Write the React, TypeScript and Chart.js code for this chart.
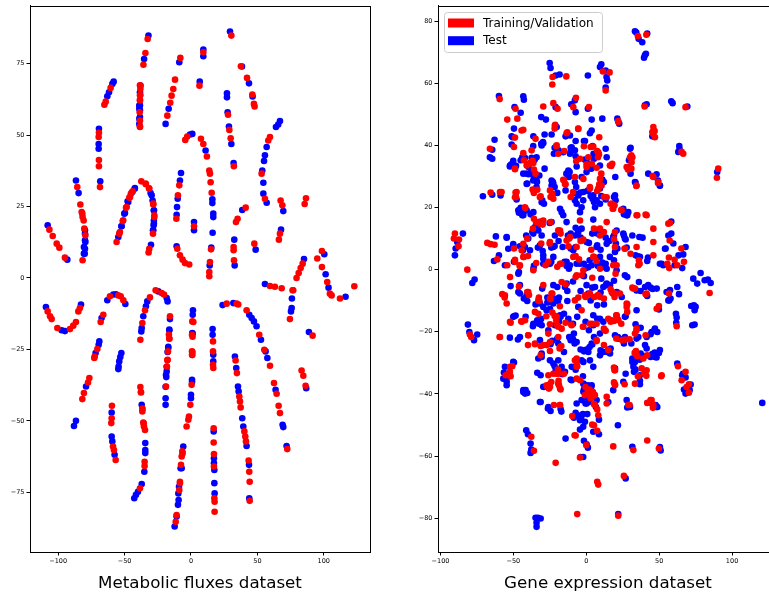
import React, { useEffect, useRef } from 'react';
import { Chart, registerables } from 'chart.js';
Chart.register(...registerables);

type P = [number, number];

// ---- Metabolic fluxes dataset (left) ----
const fluxTrain: P[] = [
  [-32.6,83.6],[-34.3,78.7],[-35.8,74.6],
  [-38.1,66.1],[-38.1,64.0],[-38.4,62.3],[-38.6,58.0],[-38.4,53.0],
  [-38.4,67.4],[-38.4,63.9],[-38.4,62.1],[-38.4,55.1],[-38.4,52.8],
  [-60.5,66.5],[-64.2,61.7],[-65.2,60.6],
  [-69.3,50.8],[-69.5,49.3],[-69.3,41.3],[-69.3,39.1],[-68.5,31.8],
  [-8.0,77.0],[-12.0,69.4],[-13.3,66.1],[-14.6,63.8],[-15.6,61.3],[-17.8,56.8],
  [9.3,79.0],[6.4,67.3],[30.4,84.8],
  [37.6,74.1],[42.2,70.0],[46.2,64.2],[47.4,60.9],[47.9,60.0],
  [27.9,57.1],[28.9,51.8],[29.9,48.9],[32.3,39.1],
  [-4.3,48.3],[-2.8,49.5],
  [7.5,48.7],[9.3,46.9],[12.0,42.5],[13.8,37.6],[14.3,36.5],[14.8,33.5],[15.6,29.8],
  [15.1,10.0],[14.3,5.6],[13.8,2.1],[13.8,0.6],
  [59.5,49.3],[58.2,48.1],[53.2,36.5],[55.7,27.7],
  [67.5,27.1],[68.8,25.4],[86.6,27.9],[85.6,25.9],[67.0,15.5],[66.2,13.4],[47.7,12.0],
  [41.2,24.6],[35.1,20.7],[33.9,19.6],[32.1,10.8],[32.1,9.7],[32.4,6.2],
  [-8.8,32.4],[-9.8,28.9],[-11.0,20.7],[-10.3,10.2],[-8.3,7.9],[-6.3,6.4],[-4.5,5.2],[-1.3,4.7],
  [2.3,18.1],
  [-56.0,12.6],[-53.5,16.1],[-51.4,19.9],[-48.9,24.6],[-46.4,28.1],[-45.2,29.5],[-43.9,30.3],[-37.4,33.8],[-34.1,33.0],[-31.6,31.4],[-28.4,25.7],[-27.6,21.9],[-28.6,15.5],
  [-54.0,15.5],[-51.0,20.2],[-48.4,24.8],[-45.9,28.3],[-33.9,32.8],[-31.4,31.3],[-28.4,26.0],[-27.6,21.3],
  [-31.4,10.2],[-31.9,8.9],
  [-85.6,31.8],[-83.3,25.7],[-81.8,22.5],[-80.8,20.1],[-79.5,14.9],[-81.6,6.2],
  [-82.3,23.1],[-81.6,21.3],[-80.3,17.3],
  [-106.6,16.9],[-104.1,14.7],[-101.1,12.0],[-99.1,10.6],[-94.9,7.1],
  [59.5,-2.8],[63.2,-3.1],[68.3,-3.6],
  [84.1,5.0],[82.6,3.5],[81.1,1.7],[79.5,0],[77.0,-4.3],
  [95.1,6.8],[98.6,9.4],[98.6,3.8],[102.6,-1.4],[104.6,-5.5],[105.9,-6.1],
  [112.2,-7.2],[123.0,-2.9],
  [-107.9,-11.7],[-106.1,-13.4],[-104.9,-14.4],[-100.6,-17.5],[-91.1,-17.9],[-88.6,-16.7],[-86.6,-15.4],[-84.8,-11.7],[-83.6,-10.5],
  [-66.0,-12.9],[-68.0,-15.4],
  [-61.0,-6.4],[-54.7,-6.1],[-52.9,-6.4],[-50.9,-7.8],
  [-30.9,-6.8],[-34.6,-11.3],[-36.6,-15.8],[-38.1,-21.6],
  [-26.6,-4.3],[-22.1,-5.3],[-20.3,-5.8],
  [-15.8,-13.4],[-16.6,-19.9],[-16.3,-21.3],[-17.3,-25.7],[-17.6,-28.6],[-18.1,-31.0],[-18.8,-38.0],
  [-16.3,-21.2],[-17.8,-28.8],
  [1.0,-15.2],[0.8,-19.9],[0.8,-25.7],[0.8,-26.9],[0.5,-37.4],[-0.5,-44.4],[-1.5,-48.5],[-2.0,-49.6],[-3.3,-52.0],[-6.5,-60.7],[-7.0,-62.5],[-7.5,-65.4],[-8.3,-71.8],[-8.8,-74.2],[-11.5,-85.3],
  [1.8,-15.4],[1.2,-20.6],[1.0,-27.0],[-6.3,-61.4],[-8.3,-71.3],[-10.8,-83.0],
  [16.6,-22.2],[16.6,-25.7],[16.6,-30.4],[16.8,-31.5],[17.1,-52.6],[17.1,-57.6],[17.3,-61.6],[17.3,-66.0],[17.6,-77.1],[17.8,-78.3],[17.8,-81.8],
  [26.9,-9.0],[34.4,-9.0],[35.6,-9.3],[41.9,-11.3],[51.4,-19.9],[55.2,-25.1],[59.5,-30.7],
  [33.6,-28.9],[34.6,-33.3],[36.4,-41.5],[36.9,-43.2],[37.4,-45.3],[40.2,-53.7],[40.9,-55.5],[41.4,-57.2],
  [43.4,-63.9],[43.9,-67.8],[44.2,-71.3],[44.2,-78.0],
  [62.5,-36.8],[64.5,-40.5],[66.0,-44.7],[67.0,-47.3],
  [72.5,-59.9],[83.3,-32.4],[84.6,-34.2],[86.3,-37.7],[91.6,-20.2],
  [76.5,-4.3],[74.5,-14.4],
  [-70.5,-24.9],[-72.5,-27.5],[-72.8,-28.0],
  [-76.5,-35.0],[-77.5,-36.6],[-80.6,-40.3],[-81.8,-42.4],
  [-59.5,-44.7],[-59.7,-49.1],[-60.0,-50.8],[-58.7,-59.0],[-58.0,-60.2],[-56.7,-63.7],
  [-38.1,-38.2],[-37.6,-40.1],[-36.6,-45.9],[-36.6,-46.7],[-35.9,-50.6],[-35.4,-52.0],[-34.6,-53.2],[-34.9,-64.3],[-34.9,-65.8],
  [-37.7,-39.9],[-36.6,-45.7],[-35.6,-50.9],
  [-38.4,-73.6],
];

const fluxTest: P[] = [
  [-32.0,84.8],[-35.3,76.6],
  [-38.0,67.3],[-38.9,60.3],[-38.9,59.2],[-38.9,55.7],[-38.9,53.9],
  [-38.4,65.0],[-38.4,60.4],[-38.4,58.7],[-38.4,56.3],
  [-58.2,68.7],[-59.2,67.9],[-61.7,65.0],[-63.0,63.6],
  [-69.3,52.2],[-69.5,46.9],[-69.5,45.2],[-68.3,33.8],
  [-8.8,75.5],[-16.8,59.2],[-19.1,53.9],
  [9.3,79.9],[9.3,77.6],[6.6,68.7],[29.4,86.2],
  [38.4,74.0],[43.7,68.1],[46.4,63.5],
  [27.1,64.6],[27.1,63.2],[27.6,58.0],[28.6,53.0],[30.4,46.9],[32.1,40.2],
  [-0.75,50.2],[1.0,50.4],
  [11.0,44.6],[16.1,27.5],[16.1,26.2],[16.8,22.5],[16.8,21.3],[16.3,15.8],
  [15.3,10.6],[14.1,4.4],
  [67.0,54.9],[65.7,53.7],[64.0,52.8],[57.0,45.8],[55.7,42.9],[55.0,40.9],[53.7,37.6],[54.5,33.3],[54.5,29.5],[57.0,26.3],
  [69.5,23.4],[67.8,16.9],[48.7,9.9],
  [38.6,23.8],[32.6,13.4],[32.9,4.4],
  [-7.5,36.7],[-8.3,34.1],[-10.0,27.7],[-10.5,24.8],[-10.8,22.1],[-10.8,11.1],
  [2.3,19.6],[2.3,16.7],
  [-54.7,14.3],[-52.4,18.1],[-50.2,22.5],[-47.7,26.8],[-42.4,31.2],[-30.4,29.7],[-28.9,27.1],[-27.9,23.6],[-27.9,20.1],[-28.1,18.4],[-28.6,16.7],
  [-52.2,18.1],[-49.7,22.7],[-47.2,26.6],[-44.2,30.1],[-42.2,31.5],[-29.6,28.9],[-27.9,23.7],[-27.9,19.0],[-28.4,16.7],
  [-30.1,11.6],
  [-86.6,34.1],[-84.6,29.7],[-79.8,16.7],[-79.5,12.6],[-79.8,10.2],[-80.0,8.5],
  [-79.8,15.5],[-79.8,13.2],[-80.6,10.8],[-80.6,8.5],
  [-107.9,18.4],[-93.1,6.4],
  [55.7,-2.1],[85.1,6.6],[76.0,-7.2],
  [100.4,8.3],[101.4,1.3],[103.6,-3.4],[116.4,-6.6],
  [-109.2,-10.2],[-97.4,-18.3],[-94.9,-18.6],[-82.8,-9.3],
  [-67.3,-14.0],
  [-63.0,-7.8],[-58.5,-5.8],[-56.5,-5.7],[-49.4,-9.1],
  [-32.9,-8.2],[-33.9,-9.9],[-35.9,-13.4],[-37.1,-17.5],[-37.4,-18.7],
  [-24.6,-4.7],[-18.3,-7.0],[-17.6,-8.2],
  [-15.8,-14.4],[-16.3,-18.1],[-17.1,-24.5],[-18.3,-32.7],[-18.6,-34.7],[-19.1,-42.1],[-19.1,-44.4],
  [-16.3,-18.3],[-17.1,-24.1],[-17.6,-25.9],[-18.3,-31.1],[-18.8,-34.0],[-19.1,-38.1],
  [1.5,-11.3],[1.3,-12.9],[1.0,-19.3],[0.8,-35.6],[0,-40.9],[0,-42.1],[-5.8,-59.0],[-7.8,-66.6],[-9.3,-77.7],[-9.8,-79.4],[-10.8,-83.5],[-12.3,-87.0],
  [1.2,-19.5],[1.0,-25.9],[0.8,-36.4],[-7.0,-66.6],[-9.0,-73.1],[-9.5,-75.4],
  [16.3,-17.9],[16.3,-19.9],[16.8,-26.9],[16.8,-29.2],[17.1,-53.7],[17.3,-63.1],[17.3,-64.8],[17.6,-67.2],[17.6,-71.8],[17.8,-75.4],
  [23.8,-9.5],[31.9,-8.8],[43.9,-12.9],[45.7,-14.0],[47.4,-15.2],[49.4,-16.9],[52.7,-21.6],[56.2,-25.7],[57.5,-28.0],
  [33.1,-27.5],[34.1,-31.5],[35.4,-38.0],[35.9,-39.7],[38.6,-49.1],[39.4,-52.0],[41.9,-58.8],
  [43.7,-65.4],[43.9,-77.1],
  [63.7,-39.1],[69.0,-51.4],[69.5,-52.2],
  [72.0,-58.8],[86.8,-38.6],[88.8,-18.9],
  [75.8,-10.5],[75.3,-11.7],
  [-69.0,-22.2],[-69.5,-23.4],[-71.8,-26.3],
  [-79.0,-38.0],[-86.6,-50.0],[-88.1,-51.8],
  [-52.4,-26.3],[-53.2,-27.7],[-54.0,-29.2],[-54.5,-31.0],[-54.7,-31.9],
  [-59.7,-47.1],[-59.7,-55.5],[-59.2,-57.2],[-57.5,-61.9],
  [-37.1,-44.4],[-34.4,-57.8],[-34.4,-60.2],[-34.4,-61.3],[-35.1,-67.8],
  [-37.1,-72.1],[-39.9,-74.8],[-41.4,-75.9],[-42.7,-77.1],
];

// ---- Gene expression dataset (right) ----
const geneTrain: P[] = [
  [35.4,75.2],[41.2,75.6],
  [11.4,63.8],[16.0,63.5],[13.3,57.7],
  [-23.1,62.0],[-23.3,59.6],[-13.7,62.2],
  [-59.4,54.9],[-48.5,51.8],[-29.5,52.5],[-22.6,53.6],[-19.7,51.8],[-8.9,52.3],[-7.1,55.3],[1.8,52.3],[40.0,52.5],[68.1,52.3],
  [-54.2,48.3],[-47.3,48.6],[-48.9,42.5],[-44.4,44.8],[-21.3,46.6],[-21.7,45.4],[-13.0,44.2],[-5.5,45.4],[21.9,47.8],[45.3,44.3],[46.9,44.6],[-34.8,42.1],
  [-66.1,38.9],[-49.6,39.5],[-20.6,39.8],[-15.1,38.2],[-1.6,39.7],[3.0,39.5],[7.5,38.2],[8.7,37.1],[30.9,36.8],[31.6,36.2],[65.4,37.9],[66.5,37.3],
  [-42.8,35.2],[-40.5,34.1],[-38.2,34.5],[-36.8,35.0],[-34.8,30.9],[-35.9,32.2],[-15.3,28.7],[-14.2,27.5],[-6.9,34.9],[0.2,33.9],[8.0,36.2],[7.1,32.8],[10.3,30.9],[8.9,27.5],[17.1,33.4],[17.8,34.1],[27.7,33.0],[28.6,32.2],[30.9,32.5],[34.3,26.9],[45.5,30.1],[49.2,27.9],[90.5,32.5],[89.6,29.6],[-48.9,32.3],
  [-59.2,25.0],[-48.5,24.8],[-48.2,23.4],[-36.8,25.8],[-35.9,24.7],[-33.6,25.7],[-31.3,23.6],[-24.5,23.4],[-23.3,24.5],[-10.7,23.4],[-9.1,25.0],[2.5,26.1],[7.5,25.3],[8.7,26.6],[12.1,23.4],[16.7,21.2],[18.1,19.6],[19.4,20.7],[24.0,19.3],[35.0,17.5],[40.7,17.7],[57.4,15.0],[-41.8,19.8],[-35.9,16.4],[-34.5,15.3],[-65.6,24.8],
  [-90.8,10.0],[-90.1,11.6],[-87.3,9.7],[-87.6,7.5],[-67.9,8.6],[-65.6,8.2],[-62.9,8.0],[-49.6,6.8],[-40.5,10.0],[-36.6,13.2],[-31.3,15.5],[-29.9,14.5],[-24.5,15.3],[-19.2,12.7],[-17.6,11.6],[-11.7,10.0],[-3.9,9.2],[-2.1,9.7],[5.3,13.2],[12.1,12.1],[19.0,9.8],[46.0,8.9],[57.2,9.4],[65.2,6.8],[-30.9,8.4],[-25.1,8.4],[-13.5,9.4],[3.4,6.4],[30.4,5.1],
  [-81.6,0],[-61.0,3.3],[-54.2,1.4],[-48.9,3.2],[-45.7,1.2],[-42.8,4.1],[-40.0,4.4],[-34.3,2.1],[-27.9,1.4],[-19.9,0.9],[-17.1,1.9],[-7.3,4.4],[-5.0,3.3],[5.3,4.1],[6.9,2.8],[18.5,1.4],[26.3,6.8],[36.1,3.0],[36.6,1.9],[55.6,1.9],[56.7,3.9],[56.9,0.5],[60.6,3.2],[62.4,1.4],[67.0,2.5],
  [84.6,-7.5],[56.7,-7.7],[-57.6,-7.9],[-56.0,-9.0],[-46.2,-5.4],[-40.5,-7.2],[-39.3,-8.2],[-32.5,-9.0],[-23.3,-7.7],[-14.2,-4.7],[-7.3,-2.4],[-5.5,-9.0],[-0.5,-8.8],[2.3,-7.9],[5.7,-8.8],[7.8,-8.3],[12.1,-9.3],[16.7,-6.3],[18.1,-7.7],[19.4,-8.8],[31.6,-5.8],[33.4,-6.1],[40.7,-7.9],[4.1,-2.6],[20.1,-1.3],
  [-32.2,-10.1],[-24.5,-9.5],[-18.1,-11.8],[-7.8,-9.9],[28.1,-11.2],[49.8,-11.7],
  [-79.8,-20.9],[-78.9,-21.7],[-51.9,-17.1],[-44.6,-16.6],[-39.8,-21.1],[-27.4,-15.0],[-24.9,-17.6],[-23.3,-13.8],[-21.7,-14.9],[-20.6,-16.3],[-19.9,-17.9],[-14.2,-17.1],[-10.3,-17.7],[-2.3,-18.4],[4.1,-17.4],[12.1,-19.0],[13.3,-19.7],[16.7,-16.8],[19.0,-16.5],[20.6,-14.7],[24.0,-17.4],[28.1,-13.6],[34.5,-19.0],[40.7,-21.1],[62.0,-18.2],
  [-59.4,-21.7],[-40.0,-24.3],[-35.2,-24.0],[-31.3,-24.6],[-31.3,-27.6],[-27.2,-24.3],[-24.9,-26.2],[-18.3,-25.4],[-17.1,-24.6],[7.1,-23.0],[12.1,-24.3],[20.6,-22.2],[24.7,-22.7],[27.0,-22.5],[29.7,-22.4],[33.2,-26.8],[34.1,-26.2],[35.0,-27.9],[41.8,-27.6],[62.9,-31.1],[68.1,-32.9],
  [-55.3,-34.0],[-52.4,-32.9],[-51.9,-34.3],[-50.8,-31.1],[-26.7,-37.8],[-25.6,-38.3],[-25.1,-36.9],[-24.0,-36.2],[-20.3,-33.5],[-19.4,-32.2],[-19.0,-35.8],[-18.7,-37.2],[-17.6,-38.6],[-15.3,-33.5],[-6.6,-28.6],[-6.6,-30.0],[-6.2,-31.1],[-0.5,-37.8],[2.3,-38.6],[4.6,-39.4],[1.1,-38.8],[2.5,-39.9],[19.0,-31.5],[19.4,-32.4],[19.0,-36.3],[19.7,-36.9],[26.3,-36.9],[35.4,-34.3],[39.6,-33.5],[41.2,-34.2],[51.4,-34.3],[65.4,-35.6],[68.8,-37.8],[70.4,-36.9],[70.4,-39.6],
  [-22.2,-43.6],[-18.1,-43.6],[-9.6,-47.1],[3.0,-41.5],[5.3,-43.3],[5.9,-40.4],[7.5,-45.0],[8.2,-46.9],[4.1,-49.9],[7.5,-51.9],[0.0,-56.5],[-8.0,-53.3],[-4.3,-60.5],[29.7,-43.6],[44.1,-42.0],[44.8,-43.1],[45.7,-44.5],[41.8,-42.9],[-37.7,-53.8],[-35.9,-58.3],[-7.3,-53.4],[5.3,-50.1],[18.5,-56.9],[32.3,-58.1],[41.8,-55.0],[49.8,-57.6],[-21.0,-62.2],
  [7.5,-68.3],[8.2,-69.2],[25.8,-66.4],[-6.2,-78.7],[21.9,-79.2],
  // denser centre, upper part
  [-43.2,45.0],[-13.5,43.9],[-5.5,45.3],[8.9,42.6],[4.8,39.6],[8.2,37.8],[1.4,36.2],[-4.3,35.7],[-20.3,40.0],[-19.2,37.3],[-37.5,38.4],[-43.2,37.5],
  [-36.3,34.3],[-38.6,34.1],[-40.9,33.5],[-48.9,32.5],[-36.3,25.5],[-15.8,28.9],[-14.6,27.6],[-7.8,29.8],[-2.0,29.2],[0.2,33.0],[3.7,34.1],[16.2,33.5],
  [30.0,36.2],[31.1,34.6],[34.5,27.1],[46.0,29.8],[49.4,28.2],[47.1,42.6],[46.0,43.7],[9.4,29.2],[10.5,27.1],[8.2,26.0],[2.5,26.6],
  [14.0,23.3],[17.4,21.2],[18.5,19.6],[24.2,19.1],[34.5,17.5],[41.4,17.5],[-24.9,25.5],[-22.6,22.8],[-31.8,23.3],[-42.1,20.1],[-48.9,23.3],[-47.8,25.0],[-58.1,25.0],
  [-4.3,15.8],[9.4,13.2],[14.0,15.3],[19.7,12.1],[9.4,11.0],[-11.2,10.5],[-18.0,12.6],[-29.5,15.8],[-31.8,14.8],[-43.2,8.3],[-44.3,6.2],[-24.9,8.9],[-12.3,7.5],
  [-3.2,9.4],[-6.6,7.3],[19.7,7.3],[26.5,6.7],[34.5,7.3],[46.0,4.6],[46.0,13.2],[56.3,14.8],[46.0,45.9],[22.0,47.5],[-43.2,4.1],[-8.9,4.1],[4.8,4.1],
  // denser centre, lower part
  [-48.9,2.5],[-45.5,1.4],[-36.3,-0.2],[-26.0,2.5],[-18.0,1.9],[-2.0,-0.2],[9.4,0.3],[20.8,1.4],[35.7,1.4],[-52.3,-2.4],[-39.8,-7.2],[-55.8,-8.3],[-54.6,-10.9],
  [-29.5,-5.0],[-23.8,-7.7],[-16.9,-4.0],[-6.6,-1.8],[-3.2,-1.8],[-0.9,-8.3],[2.5,-7.7],[8.2,-8.3],[9.4,-8.8],[17.4,-7.2],[19.7,-7.7],[23.1,-7.7],
  [32.3,-6.1],[41.4,-7.7],[48.3,-12.6],[-32.9,-9.9],[-24.9,-9.3],[-35.2,-13.6],[-32.9,-14.2],[-20.3,-15.2],[-42.0,-16.3],[-44.3,-16.8],[-52.3,-16.8],
  [-39.8,-21.1],[-29.5,-24.3],[-35.2,-23.8],[-26.0,-20.6],[-24.9,-23.3],[-19.2,-18.4],[-16.9,-19.0],[-19.2,-21.7],[-18.0,-24.9],[-10.0,-17.9],
  [-3.2,-13.1],[-2.0,-18.4],[2.5,-17.4],[7.1,-17.4],[15.1,-15.8],[17.4,-16.3],[20.8,-14.7],[22.0,-16.3],[27.7,-12.0],[27.7,-10.9],[12.8,-19.5],
  [7.1,-22.7],[15.1,-25.9],[25.4,-22.7],[33.4,-20.6],[34.5,-19.5],[34.5,-27.6],[39.1,-28.6],[38.0,-31.8],[41.4,-32.4],[33.4,-36.7],[51.7,-34.0],
  [-7.8,-29.2],[-6.6,-31.3],[-6.6,-35.1],[-4.3,-35.6],[-19.2,-33.5],[-22.6,-33.5],[-26.0,-34.0],[-27.2,-37.2],[-24.9,-37.7],[-18.0,-38.3],[-19.2,-36.7],
  [1.4,-39.9],[3.7,-40.9],[-0.9,-40.4],[6.0,-43.6],[14.0,-40.9],[14.0,-43.1],[19.7,-37.2],[19.7,-32.4],[28.8,-43.6],[44.8,-42.0],[46.0,-43.6],
  [-53.5,-33.5],[-52.3,-31.3],[-18.0,-43.6],[-59.2,-21.7],
];

const geneTest: P[] = [
  [33.4,76.7],[34.3,76.3],[35.9,74.3],[38.4,73.2],[41.8,76.0],[40.2,69.0],[40.9,69.5],[39.6,68.2],
  [10.3,66.1],[9.4,65.2],[13.3,64.1],[13.9,62.0],[14.4,60.9],[13.3,58.6],[1.1,62.5],
  [-25.1,66.5],[-24.5,64.9],[-21.0,62.5],[-18.3,62.8],
  [-59.9,55.9],[-43.2,55.8],[-42.8,54.7],[-49.2,52.3],[-45.0,50.5],[-21.0,52.3],[-10.3,53.2],[-7.8,54.5],[-7.3,50.7],[1.1,51.8],[40.2,52.9],[41.4,53.2],[58.3,54.2],[59.2,53.6],[69.3,52.5],
  [-49.6,45.4],[-51.2,42.9],[-30.9,49.1],[-27.7,48.3],[-20.3,45.9],[-14.2,42.9],[3.7,48.3],[11.0,48.6],[21.3,48.6],[22.6,47.0],[45.3,42.9],[-28.6,43.5],
  [-64.5,38.6],[-62.9,41.8],[-66.1,36.2],[-64.5,35.7],[-51.2,40.3],[-36.4,39.8],[-30.9,40.5],[-29.7,41.1],[-21.7,39.2],[-19.0,38.4],[-10.7,39.2],[-10.7,37.9],[-7.3,41.4],[-1.6,41.4],[4.3,39.8],[5.0,37.3],[13.3,38.9],[30.4,39.2],[29.3,35.2],[63.8,39.8],[64.0,38.7],[63.1,37.9],
  [-50.1,35.0],[-51.4,33.9],[-48.2,33.4],[-45.0,35.2],[-43.9,36.2],[-35.4,35.4],[-39.6,33.0],[-37.5,32.0],[-43.2,30.9],[-39.6,30.7],[-40.5,27.7],[-36.4,28.7],[-33.8,28.2],[-28.6,32.5],[-22.9,28.2],[-21.7,26.6],[-23.8,27.1],[-13.5,30.9],[-11.4,31.4],[-11.9,29.8],[-7.3,36.5],[-6.6,33.2],[0,35.2],[1.8,33.6],[3.4,34.1],[3.4,32.5],[5.3,35.7],[11.0,29.0],[9.4,26.1],[12.1,28.2],[19.9,29.8],[30.4,30.9],[33.8,28.0],[48.2,30.7],[49.2,28.7],[50.5,27.0],[89.8,31.4],[-52.4,33.2],[-32.2,30.3],
  [-70.9,23.6],[-58.8,23.9],[-47.8,22.6],[-30.2,22.3],[-29.0,21.2],[-19.9,24.7],[-14.2,25.5],[-7.3,24.5],[-6.9,26.6],[-3.9,24.8],[-2.1,22.3],[0.7,25.3],[3.0,23.7],[4.3,22.8],[5.3,21.8],[10.3,23.7],[13.3,22.6],[19.0,23.4],[20.1,22.3],[25.8,17.8],[28.1,17.5],[58.3,15.5],[58.3,11.6],[-45.0,19.9],[-46.2,18.3],[-42.8,18.6],[-43.9,17.5],[-38.2,17.8],[-64.5,24.1],
  [-88.5,8.9],[-89.6,6.8],[-84.6,11.6],[-62.0,10.7],[-54.6,10.3],[-50.1,8.2],[-45.5,7.5],[-41.2,11.0],[-37.0,12.1],[-33.6,13.7],[-32.5,15.3],[-25.1,15.0],[-12.6,11.0],[-10.7,11.6],[-7.3,13.5],[-5.7,12.7],[-3.9,10.3],[1.8,8.6],[4.1,11.6],[7.5,11.6],[8.2,12.7],[13.3,10.3],[15.8,9.2],[19.0,11.0],[20.3,8.4],[25.8,11.0],[27.0,9.7],[31.6,11.0],[36.4,10.5],[38.6,10.3],[54.4,6.8],[59.7,8.4],[63.3,4.6],[66.5,4.9],[68.1,7.3],[-90.1,4.6],[-43.4,6.2],[-33.2,7.1],[-29.9,6.0],[-24.0,7.1],[-21.7,7.6],[-19.0,9.2],[-16.2,7.3],[-10.7,6.8],[-7.3,7.3],[7.5,7.8],[9.8,6.4],[21.3,6.8],[33.8,4.6],
  [-78.2,-4.3],[-76.6,-3.2],[-63.3,2.8],[-59.9,4.6],[-49.6,2.5],[-46.2,-0.8],[-35.9,1.2],[-29.5,3.5],[-25.6,1.9],[-24.0,2.5],[-14.9,2.5],[-13.5,1.2],[-11.9,0.3],[-6.6,1.9],[-1.6,1.9],[-0.2,0.5],[2.3,3.0],[8.0,1.2],[11.0,2.3],[12.1,0.9],[13.3,1.9],[19.0,3.0],[27.7,7.1],[35.4,4.3],[42.3,3.9],[41.8,2.8],[51.7,1.9],[60.6,1.4],[65.8,0.5],
  [73.4,-2.9],[76.1,-4.5],[78.4,-1.1],[81.2,-3.4],[83.4,-3.2],[85.3,-4.3],[57.4,-6.6],[62.4,-5.6],[63.6,-7.9],[57.8,-9.3],
  [-51.9,-5.3],[-45.5,-7.7],[-42.8,-9.3],[-30.2,-6.1],[-26.7,-9.0],[-22.2,-9.3],[-19.9,-5.6],[-18.7,-9.0],[-13.0,-6.9],[-3.9,-6.9],[4.1,-5.8],[9.8,-7.4],[13.5,-5.0],[21.3,-7.4],[37.3,-6.9],[41.8,-8.5],[44.1,-5.8],[45.5,-6.2],[-9.1,-3.8],[-1.6,-2.1],[10.3,-2.9],[19.0,-3.6],[28.1,-2.4],[36.1,-4.0],
  [-40.5,-10.1],[-34.8,-11.2],[-26.7,-10.6],[-19.4,-10.1],[-13.0,-10.1],[3.0,-9.9],[7.5,-11.5],[12.1,-11.2],[49.8,-12.8],[56.9,-9.9],[75.0,-12.0],[73.8,-11.5],[74.3,-13.1],
  [-81.2,-17.7],[-80.2,-20.1],[-74.8,-20.9],[-77.0,-22.7],[-49.6,-15.0],[-48.5,-14.8],[-41.6,-15.2],[-36.6,-18.2],[-33.6,-16.3],[-32.5,-17.4],[-30.9,-15.8],[-18.7,-16.8],[-17.6,-15.2],[-15.3,-14.2],[-12.3,-15.8],[-9.1,-17.4],[-8.5,-20.6],[-6.2,-15.2],[-0.5,-16.8],[1.8,-19.5],[4.8,-14.7],[7.5,-15.8],[21.3,-15.8],[27.0,-15.0],[33.8,-17.6],[37.3,-18.7],[44.1,-20.8],[46.9,-19.3],[48.7,-20.1],[61.5,-14.2],[62.0,-15.4],[61.7,-17.1],[72.0,-11.7],[72.7,-17.9],[74.3,-17.7],
  [-52.4,-21.9],[-46.9,-22.5],[-45.5,-21.7],[-30.6,-27.0],[-24.5,-24.0],[-23.3,-22.9],[-19.9,-22.2],[-19.2,-23.8],[-15.3,-26.5],[-11.7,-21.7],[-10.7,-22.7],[-9.4,-22.2],[-8.0,-23.8],[-6.6,-23.3],[-3.9,-25.7],[-1.6,-26.3],[1.1,-25.6],[2.3,-24.9],[4.1,-24.1],[5.3,-21.7],[9.8,-26.0],[14.4,-26.5],[15.1,-25.7],[16.7,-25.4],[21.7,-21.7],[25.8,-22.2],[25.8,-23.8],[30.9,-23.8],[31.6,-28.6],[36.6,-29.0],[37.3,-27.0],[39.6,-27.8],[44.1,-28.1],[45.3,-27.2],[46.9,-26.7],[48.2,-28.3],[49.8,-26.8],[62.4,-30.2],[66.3,-33.5],[68.1,-34.7],
  [-56.5,-33.1],[-54.6,-36.1],[-49.6,-29.9],[-54.6,-34.8],[-43.2,-39.4],[-41.6,-38.8],[-40.5,-39.7],[-33.6,-33.2],[-31.3,-34.0],[-29.0,-37.8],[-21.7,-31.1],[-21.0,-32.6],[-17.1,-32.2],[-16.5,-33.7],[-10.7,-35.4],[-7.3,-32.2],[-2.3,-34.3],[-1.6,-36.9],[-1.6,-38.6],[1.1,-37.2],[3.4,-37.8],[5.3,-40.4],[0.7,-40.4],[-0.7,-41.0],[25.4,-36.1],[27.0,-33.5],[31.6,-29.7],[32.7,-32.9],[33.8,-32.2],[36.8,-35.8],[36.8,-36.9],[65.8,-34.0],[67.0,-38.6],[68.1,-39.9],[70.9,-38.8],[71.6,-37.0],
  [-31.3,-42.6],[-26.3,-44.7],[-24.5,-45.5],[-17.6,-44.9],[-17.1,-45.7],[-8.5,-47.7],[-7.3,-46.1],[-5.7,-46.9],[-4.3,-48.5],[-3.4,-47.4],[-2.3,-46.5],[-0.9,-49.0],[-0.5,-43.1],[0.7,-46.5],[1.8,-42.6],[6.6,-44.2],[8.7,-48.3],[4.8,-52.2],[8.7,-53.0],[-2.1,-50.6],[-4.3,-51.5],[-1.6,-55.1],[0.2,-56.2],[1.1,-57.3],[-3.9,-60.3],[-2.1,-60.3],[21.7,-50.1],[27.7,-42.0],[28.1,-44.4],[47.6,-43.6],[48.7,-44.2],[-41.2,-51.7],[-40.0,-53.0],[-38.2,-56.0],[-37.7,-57.9],[-38.2,-59.0],[-14.2,-54.4],[31.6,-57.0],[51.0,-58.2],[50.5,-57.1],
  [27.0,-67.2],[21.9,-78.7],[-34.8,-79.9],[-33.2,-79.9],[-31.3,-80.1],[-34.1,-81.5],[-34.1,-82.8],[120.7,-42.9],
  // denser centre, upper part
  [-36.3,42.9],[-50.5,42.6],[-29.5,40.7],[-30.6,40.0],[-23.8,43.5],[-21.5,46.4],[-11.2,43.2],[2.5,43.9],[3.7,44.8],[-0.9,41.4],[-0.9,35.4],[-7.8,38.4],[-10.0,39.4],[-11.2,37.3],[-15.8,37.8],[-22.2,37.3],
  [-42.1,36.0],[-37.5,36.0],[-34.1,36.2],[-52.3,33.5],[-36.3,31.9],[-40.9,30.9],[-36.3,30.3],[-34.1,28.7],[-40.9,27.6],[-34.1,26.6],[-23.8,28.7],[-22.6,27.6],[-7.8,28.2],[-12.3,31.9],[-13.5,30.9],
  [-3.2,29.8],[0.2,31.4],[9.4,33.5],[14.0,36.2],[28.8,33.0],[30.0,38.9],[33.4,28.2],[50.5,27.1],[1.4,25.5],[-2.0,25.0],[-5.5,23.9],[-7.8,22.3],[-6.6,21.2],[-3.2,20.1],[-4.3,18.5],
  [4.8,23.9],[7.1,22.3],[9.4,21.2],[6.0,20.1],[19.7,23.9],[25.4,19.6],[27.7,17.5],[28.8,18.5],[-30.6,21.7],[-36.3,18.5],[-40.9,19.1],[-43.2,17.5],[-46.6,19.1],
  [-18.0,19.6],[-15.8,17.5],[-13.5,15.3],[-16.9,18.5],[-23.8,15.3],[4.8,16.1],[20.8,12.6],[25.4,11.6],[26.5,10.0],[18.5,10.5],[8.2,12.1],[-3.2,13.2],[-5.5,12.1],[-7.8,11.0],[-21.5,11.0],
  [-32.9,12.6],[-35.2,13.7],[-30.6,11.0],[-36.3,11.6],[-39.8,10.0],[-42.1,7.3],[-54.6,10.5],[-50.1,7.8],[-38.6,6.2],[-31.8,7.8],[-22.6,7.3],[-8.9,6.2],[0.2,8.9],[7.1,7.3],[14.0,8.3],
  [19.7,5.7],[36.8,4.1],[54.0,6.7],[56.3,11.0],[42.5,30.9],[-53.5,6.7],[-29.5,4.6],[-22.6,4.1],[9.4,4.1],[16.2,4.1],
  // denser centre, lower part
  [-55.8,1.4],[-46.6,-1.3],[-36.3,0.3],[-29.5,1.9],[-24.9,1.9],[-13.5,2.5],[-11.2,1.4],[-4.3,1.9],[1.4,0.8],[3.7,1.4],[11.7,1.9],[14.0,0.3],[20.8,-0.2],[26.5,-1.8],[50.5,1.9],[52.8,1.4],
  [-45.5,-5.0],[-46.6,-7.2],[-40.9,-8.3],[-42.0,-9.3],[-22.6,-5.0],[-14.6,-5.6],[-13.5,-4.5],[0.2,-5.0],[1.4,-7.7],[6.0,-5.6],[11.7,-5.6],[14.0,-4.5],[16.3,-5.0],[20.8,-7.2],[24.3,-8.8],
  [34.5,-6.7],[40.3,-5.6],[42.5,-5.0],[48.3,-6.1],[55.1,-7.2],[56.3,-9.9],[-31.8,-10.9],[-29.5,-12.0],[-26.0,-10.4],[-22.6,-10.9],[-24.9,-12.6],[-27.2,-13.1],[-18.0,-14.7],
  [-31.8,-16.8],[-30.6,-17.9],[-36.3,-17.4],[-50.1,-15.2],[-31.8,-22.7],[-26.0,-19.5],[-21.5,-17.9],[-12.3,-16.8],[-10.0,-21.7],[-8.9,-22.7],[-5.5,-12.0],[4.8,-17.9],[9.4,-15.8],[11.7,-16.8],
  [26.5,-15.2],[34.5,-13.1],[9.4,-20.6],[3.7,-23.8],[-0.9,-25.9],[1.4,-26.5],[2.5,-29.2],[4.8,-31.3],[9.4,-27.6],[11.7,-26.5],[16.3,-27.0],[19.7,-21.1],[22.0,-22.2],[26.5,-21.7],
  [34.5,-22.2],[35.7,-21.7],[41.4,-21.7],[44.8,-20.1],[47.1,-19.0],[41.4,-25.4],[40.3,-24.3],[44.8,-27.6],[47.1,-28.1],[50.5,-25.9],[33.4,-29.7],[32.3,-31.3],[36.8,-34.0],
  [-3.2,-29.2],[-2.0,-29.7],[-10.0,-31.3],[-30.6,-28.1],[-32.9,-28.6],[-24.9,-29.2],[-22.6,-30.2],[-19.2,-29.2],[-16.9,-31.3],[-14.6,-32.9],[-29.5,-37.7],[-10.0,-35.6],[-2.0,-36.7],
  [0.2,-37.7],[3.7,-37.2],[-2.0,-39.3],[2.5,-39.3],[-3.2,-42.0],[0.2,-43.1],[-6.6,-43.1],[7.1,-42.0],[15.1,-42.6],[18.5,-38.8],[19.7,-31.8],[30.0,-44.2],[48.3,-44.2],
  [-55.8,-31.3],[-56.9,-35.1],[-54.6,-37.2],[-50.1,-29.7],[-43.2,-38.8],[-42.0,-39.9],[-31.8,-42.6],[-26.0,-44.2],
];

const fluxXTicks = [-100, -50, 0, 50, 100];
const fluxYTicks = [-75, -50, -25, 0, 25, 50, 75];
const geneXTicks = [-100, -50, 0, 50, 100];
const geneYTicks = [-80, -60, -40, -20, 0, 20, 40, 60, 80];
const seriesLabels = ['Training/Validation', 'Test'];
const seriesColors = ['#ff0000', '#0000ff'];
const titles = ['Metabolic fluxes dataset', 'Gene expression dataset'];

const FONT = '"DejaVu Sans", Verdana, sans-serif';
const fmt = (v: number) => (v < 0 ? '\u2212' + Math.abs(v) : String(v));

const framePlugin = {
  id: 'frameBox',
  afterDatasetsDraw(chart: any) {
    const { ctx, chartArea: a } = chart;
    ctx.save();
    ctx.strokeStyle = '#000';
    ctx.lineWidth = 1;
    ctx.strokeRect(Math.round(a.left) + 0.5, Math.round(a.top) + 0.5, Math.round(a.right - a.left), Math.round(a.bottom - a.top));
    ctx.restore();
  },
};

const legendPlugin = {
  id: 'boxLegend',
  afterDraw(chart: any) {
    const { ctx, chartArea: a } = chart;
    const x0 = Math.round(a.left) + 6;
    const y0 = Math.round(a.top) + 6;
    ctx.save();
    ctx.fillStyle = 'rgba(255,255,255,0.8)';
    ctx.strokeStyle = '#cccccc';
    ctx.lineWidth = 1;
    ctx.beginPath();
    (ctx as any).roundRect(x0 + 0.5, y0 + 0.5, 158, 40, 3);
    ctx.fill();
    ctx.stroke();
    chart.data.datasets.forEach((ds: any, i: number) => {
      const cy = y0 + 11 + i * 17.7;
      ctx.fillStyle = ds.backgroundColor;
      ctx.fillRect(x0 + 4, cy - 4.5, 26, 9);
      ctx.fillStyle = '#000';
      ctx.font = '12px ' + FONT;
      ctx.textBaseline = 'middle';
      ctx.textAlign = 'left';
      ctx.fillText(ds.label, x0 + 39, cy + 0.5);
    });
    ctx.restore();
  },
};

function makeConfig(
  train: P[], test: P[], xr: [number, number], yr: [number, number],
  xt: number[], yt: number[], title: string, yAxisW: number, padRight: number, legend: boolean
): any {
  const tickStyle = { font: { family: FONT, size: 6.5 }, color: '#000', maxRotation: 0, autoSkip: false };
  return {
    type: 'scatter',
    data: {
      datasets: [train, test].map((d, i) => ({
        label: seriesLabels[i],
        data: d.map(([x, y]) => ({ x, y })),
        backgroundColor: seriesColors[i],
        borderWidth: 0,
        pointRadius: 3.3,
        pointHoverRadius: 3.3,
      })),
    },
    options: {
      responsive: false,
      animation: false,
      events: [],
      layout: { padding: { left: 0, top: 5, right: padRight, bottom: 0 } },
      plugins: { legend: { display: false }, tooltip: { enabled: false } },
      scales: {
        x: {
          type: 'linear', min: xr[0], max: xr[1],
          afterBuildTicks: (s: any) => { s.ticks = xt.map((v) => ({ value: v })); },
          afterFit: (s: any) => { s.height = 44; },
          grid: { drawOnChartArea: false, drawTicks: true, tickLength: 3.5, color: '#000', lineWidth: 1 },
          border: { display: true, color: '#000', width: 1 },
          ticks: { ...tickStyle, padding: 1.5, callback: (v: number) => fmt(v) },
          title: { display: true, text: title, font: { family: FONT, size: 16.7 }, color: '#000', padding: { top: 0, bottom: 2 } },
        },
        y: {
          type: 'linear', min: yr[0], max: yr[1],
          afterBuildTicks: (s: any) => { s.ticks = yt.map((v) => ({ value: v })); },
          afterFit: (s: any) => { s.width = yAxisW; },
          grid: { drawOnChartArea: false, drawTicks: true, tickLength: 3.5, color: '#000', lineWidth: 1 },
          border: { display: true, color: '#000', width: 1 },
          ticks: { ...tickStyle, padding: 2, callback: (v: number) => fmt(v) },
        },
      },
    },
    plugins: legend ? [framePlugin, legendPlugin] : [framePlugin],
  };
}

export default function App() {
  const leftRef = useRef<HTMLCanvasElement>(null);
  const rightRef = useRef<HTMLCanvasElement>(null);

  useEffect(() => {
    const c1 = new Chart(leftRef.current!, makeConfig(fluxTrain, fluxTest, [-121.2, 134.8], [-95.9, 95.2], fluxXTicks, fluxYTicks, titles[0], 30, 15, false));
    const c2 = new Chart(rightRef.current!, makeConfig(geneTrain, geneTest, [-101.7, 131.5], [-90.9, 84.9], geneXTicks, geneYTicks, titles[1], 38, 7, true));
    return () => { c1.destroy(); c2.destroy(); };
  }, []);

  return (
    <div style={{ position: 'fixed', left: 0, top: 0, width: 769, height: 596, overflow: 'hidden', background: '#fff' }}>
      <canvas ref={leftRef} width={385} height={596} style={{ position: 'absolute', left: 0, top: 0 }} />
      <canvas ref={rightRef} width={385} height={596} style={{ position: 'absolute', left: 400, top: 0 }} />
    </div>
  );
}
